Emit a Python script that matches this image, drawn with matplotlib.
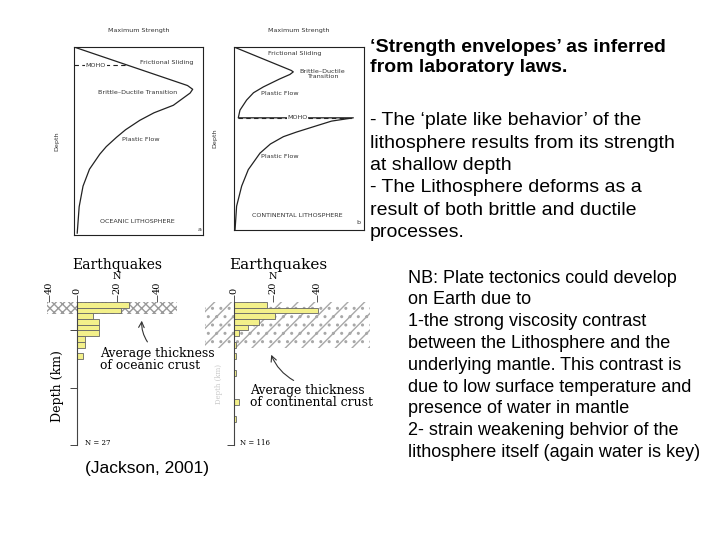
import matplotlib
matplotlib.use("Agg")
import matplotlib.pyplot as plt
from matplotlib.patches import Rectangle

W, H = 720, 540

# strength envelopes: fraction of max strength against fraction of depth
ocean_strength = [0, 0.88, 0.92, 0.90, 0.84, 0.77, 0.62, 0.51, 0.40, 0.33,
                  0.25, 0.20, 0.12, 0.07, 0.04, 0.025]
ocean_depth = [0, 0.205, 0.225, 0.245, 0.275, 0.31, 0.35, 0.39, 0.44, 0.48,
               0.53, 0.57, 0.65, 0.74, 0.85, 0.99]
ocean_moho = 0.097

cont_strength = [0, 0.44, 0.456, 0.43, 0.35, 0.226, 0.15, 0.097, 0.046, 0.033,
                 0.918, 0.75, 0.61, 0.48, 0.38, 0.28, 0.20, 0.11, 0.059, 0.02, 0.008]
cont_depth = [0, 0.128, 0.136, 0.15, 0.175, 0.218, 0.25, 0.29, 0.345, 0.387,
              0.387, 0.405, 0.436, 0.465, 0.49, 0.53, 0.58, 0.67, 0.76, 0.87, 1.0]
cont_moho = 0.387

# earthquake counts per 5 km depth bin
bin_size = 5
ocean_bin_top = [0, 5, 10, 15, 20, 25, 30, 35, 45]
ocean_counts = [26, 22, 8, 11, 11, 11, 4, 4, 3]
cont_bin_top = [0, 5, 10, 15, 20, 25, 35, 45, 60, 85, 100]
cont_counts = [16, 40.5, 20, 12, 7, 2.5, 1, 1, 1, 2.5, 1]

ocean_ticks = [-14, 0, 20, 40]
ocean_tick_labels = ["40", "0", "20", "40"]
cont_ticks = [0, 19, 40]
cont_tick_labels = ["0", "20", "40"]

title_text = "‘Strength envelopes’ as inferred\nfrom laboratory laws."
body_text = ("- The ‘plate like behavior’ of the\n"
             "lithosphere results from its strength\n"
             "at shallow depth\n"
             "- The Lithosphere deforms as a\n"
             "result of both brittle and ductile\n"
             "processes.")
nb_text = ("NB: Plate tectonics could develop\n"
           "on Earth due to\n"
           "1-the strong viscosity contrast\n"
           "between the Lithosphere and the\n"
           "underlying mantle. This contrast is\n"
           "due to low surface temperature and\n"
           "presence of water in mantle\n"
           "2- strain weakening behvior of the\n"
           "lithosphere itself (again water is key)")

SANS = "Liberation Sans"
SERIF = "DejaVu Serif"
SMALL = dict(fontsize=4.6, color="#333333", family="DejaVu Sans")
YELLOW = "#f3f08a"


def px_axes(fig, x0, y0, x1, y1):
    """Add axes from a pixel box (top-left origin)."""
    return fig.add_axes([x0 / W, 1 - y1 / H, (x1 - x0) / W, (y1 - y0) / H])


def envelope_box(ax):
    ax.set_xlim(0, 1)
    ax.set_ylim(1, 0)
    ax.set_xticks([])
    ax.set_yticks([])
    for s in ax.spines.values():
        s.set_linewidth(0.8)
        s.set_color("#222222")
    ax.text(0.5, -0.09, "Maximum Strength", ha="center", va="center", **SMALL)


def quake_axes(ax, xlim, ticks, labels):
    ax.set_facecolor("none")
    ax.set_xlim(*xlim)
    ax.set_ylim(129.8, -41.2)
    ax.spines["right"].set_visible(False)
    ax.spines["bottom"].set_visible(False)
    ax.spines["left"].set_position(("data", 0))
    ax.spines["left"].set_bounds(0, 125)
    ax.spines["left"].set_color("#444444")
    ax.spines["top"].set_position(("data", -6))
    ax.spines["top"].set_visible(False)
    ax.xaxis.set_ticks_position("top")
    ax.set_xticks(ticks)
    ax.set_xticklabels(labels, rotation=90, family=SERIF, fontsize=7)
    ax.tick_params(axis="x", direction="in", length=5, width=0.7,
                   color="#555555", pad=0.5)
    ax.tick_params(axis="y", direction="out", length=5, width=0.7,
                   color="#444444", labelleft=False)


fig = plt.figure(figsize=(W / 100, H / 100), dpi=100)

# (a) oceanic strength envelope
ax_a = px_axes(fig, 74, 47, 203, 235)
envelope_box(ax_a)
ax_a.plot(ocean_strength, ocean_depth, color="#222222", lw=0.9)
ax_a.plot([0, 0.41], [ocean_moho, ocean_moho], color="#222222", lw=0.8, ls=(0, (4, 3)))
ax_a.text(0.17, ocean_moho, "MOHO", ha="center", va="center",
          bbox=dict(fc="white", ec="none", pad=0.3), **SMALL)
ax_a.text(0.72, 0.08, "Frictional Sliding", ha="center", va="center", **SMALL)
ax_a.text(0.49, 0.24, "Brittle–Ductile Transition", ha="center", va="center", **SMALL)
ax_a.text(0.52, 0.49, "Plastic Flow", ha="center", va="center", **SMALL)
ax_a.text(0.49, 0.93, "OCEANIC LITHOSPHERE", ha="center", va="center", **SMALL)
ax_a.text(0.97, 0.97, "a", ha="center", va="center", **SMALL)
ax_a.text(-0.13, 0.5, "Depth", rotation=90, ha="center", va="center", **SMALL)

# (b) continental strength envelope
ax_b = px_axes(fig, 234, 47, 364, 230)
envelope_box(ax_b)
ax_b.plot(cont_strength, cont_depth, color="#222222", lw=0.9)
ax_b.plot([0.03, 0.92], [cont_moho, cont_moho], color="#222222", lw=0.8, ls=(0, (4, 3)))
ax_b.text(0.49, cont_moho, "MOHO", ha="center", va="center",
          bbox=dict(fc="white", ec="none", pad=0.3), **SMALL)
ax_b.text(0.47, 0.036, "Frictional Sliding", ha="center", va="center", **SMALL)
ax_b.text(0.68, 0.147, "Brittle–Ductile\nTransition", ha="center", va="center",
          linespacing=1.0, **SMALL)
ax_b.text(0.35, 0.255, "Plastic Flow", ha="center", va="center", **SMALL)
ax_b.text(0.35, 0.60, "Plastic Flow", ha="center", va="center", **SMALL)
ax_b.text(0.49, 0.92, "CONTINENTAL LITHOSPHERE", ha="center", va="center", **SMALL)
ax_b.text(0.96, 0.96, "b", ha="center", va="center", **SMALL)
ax_b.text(-0.146, 0.5, "Depth", rotation=90, ha="center", va="center", **SMALL)

# oceanic earthquakes
ax_c = px_axes(fig, 20, 255, 215, 450)
quake_axes(ax_c, (-28.5, 69), ocean_ticks, ocean_tick_labels)
ax_c.set_yticks([25, 75, 125])
ax_c.add_patch(Rectangle((-15, 0), 65, 10.5, fc="white", ec="#9a9a9a",
                         lw=0, hatch="xxxx", zorder=1))
ax_c.barh([t + bin_size / 2 for t in ocean_bin_top], ocean_counts, height=bin_size,
          color=YELLOW, edgecolor="#666666", lw=0.6, zorder=2)
ax_c.text(20, -32, "Earthquakes", ha="center", va="center", family=SERIF, fontsize=10)
ax_c.text(20, -22.5, "N", ha="center", va="center", family=SERIF, fontsize=7)
ax_c.text(-10, 74, "Depth (km)", rotation=90, ha="center", va="center",
          family=SERIF, fontsize=9)
ax_c.text(4, 124, "N = 27", ha="left", va="center", family=SERIF, fontsize=5)
ax_c.text(11.5, 50.5, "Average thickness\nof oceanic crust", ha="left", va="center",
          family=SERIF, fontsize=8.9, linespacing=0.85)
ax_c.annotate("", xy=(32.5, 14), xytext=(36, 37),
              arrowprops=dict(arrowstyle="->", color="#333333", lw=0.8,
                              connectionstyle="arc3,rad=-0.2"))

# continental earthquakes
ax_d = px_axes(fig, 200, 255, 380, 450)
quake_axes(ax_d, (-16.4, 70.5), cont_ticks, cont_tick_labels)
ax_d.set_yticks([125])
ax_d.add_patch(Rectangle((-14, 0), 79.7, 40, fc="white", ec="#a8a8a8",
                         lw=0, hatch="//..", zorder=1))
ax_d.barh([t + bin_size / 2 for t in cont_bin_top], cont_counts, height=bin_size,
          color=YELLOW, edgecolor="#666666", lw=0.6, zorder=2)
ax_d.text(21.5, -32, "Earthquakes", ha="center", va="center", family=SERIF, fontsize=11)
ax_d.text(19, -22.5, "N", ha="center", va="center", family=SERIF, fontsize=7)
ax_d.text(-7, 72, "Depth (km)", rotation=90, ha="center", va="center",
          family=SERIF, fontsize=5, color="#c8c8c8")
ax_d.text(3, 124, "N = 116", ha="left", va="center", family=SERIF, fontsize=5)
ax_d.text(7.7, 83, "Average thickness\nof continental crust", ha="left", va="center",
          family=SERIF, fontsize=8.9, linespacing=0.85)
ax_d.annotate("", xy=(17.5, 44), xytext=(30, 70),
              arrowprops=dict(arrowstyle="->", color="#333333", lw=0.8,
                              connectionstyle="arc3,rad=-0.2"))

# slide text (va="baseline" pins the last line's baseline)
fig.text(370 / W, 1 - 72 / H, title_text, family=SANS, fontsize=14,
         fontweight="bold", va="baseline", linespacing=1.24)
fig.text(370 / W, 1 - 237 / H, body_text, family=SANS, fontsize=14,
         va="baseline", linespacing=1.41)
fig.text(408 / W, 1 - 457 / H, nb_text, family=SANS, fontsize=13,
         va="baseline", linespacing=1.37)
fig.text(85 / W, 1 - 473 / H, "(Jackson, 2001)", family=SANS, fontsize=12.5,
         va="baseline")

fig.savefig("out.png", dpi=100)
